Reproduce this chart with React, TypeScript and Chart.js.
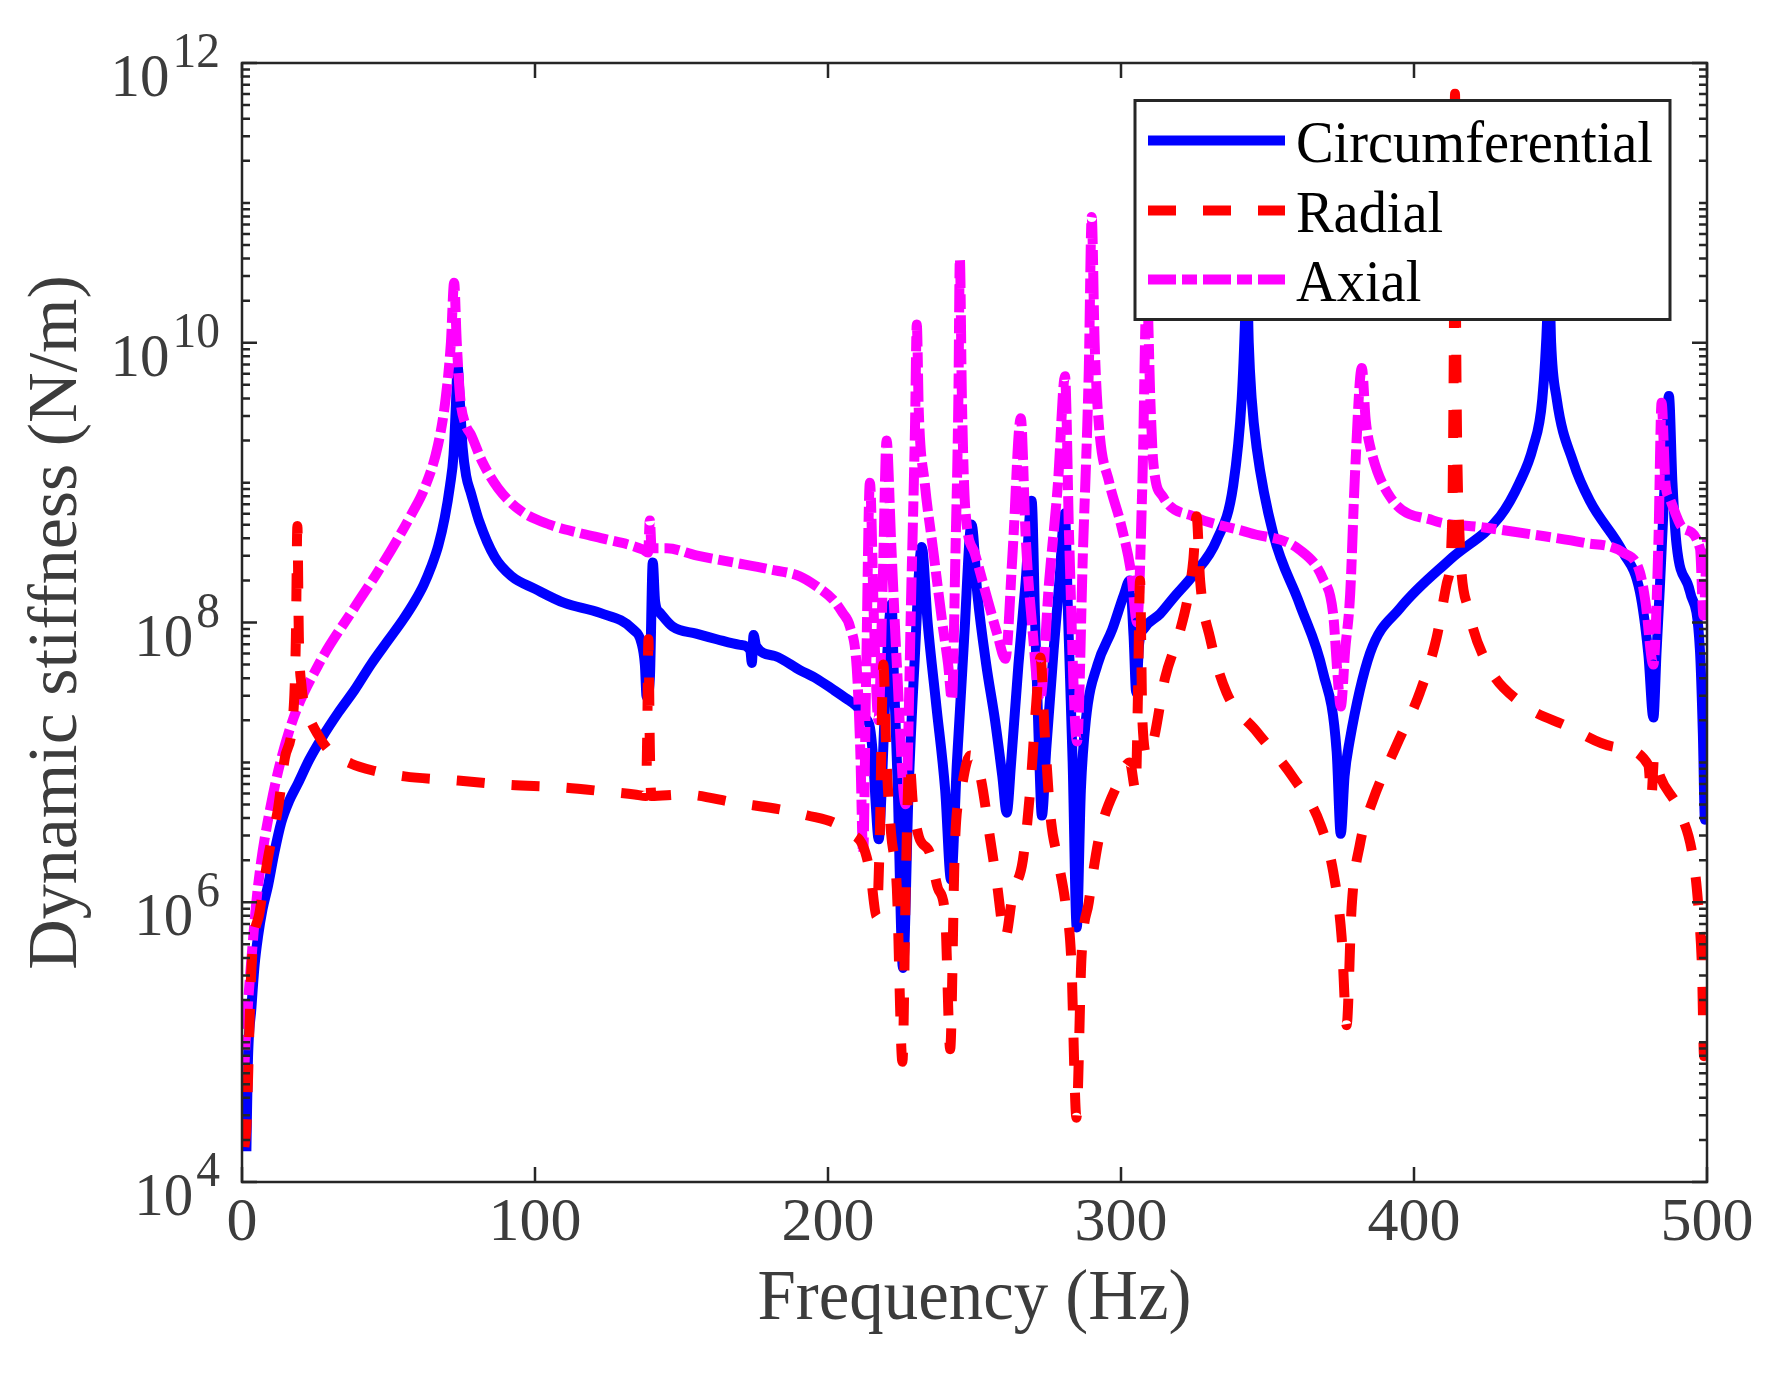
import React, { useEffect, useRef } from "react";
import { Chart, registerables } from "chart.js";

Chart.register(...registerables);

// ---- Data ----
const circFreq = [
  1.5, 2.0, 3.2, 4.3, 5.5, 7, 8.9, 11, 13.4, 16, 19.1, 23, 27.1, 33, 38.5, 44, 49.8, 55, 58.9, 62,
  64.6, 67, 69.2, 71, 72.2, 73, 73.6, 74.3, 75.3, 76.5, 78.2, 81, 86.2, 92, 100, 110, 122.2, 133.5,
  136.4, 137.5, 138.1, 139.2, 140.2, 141, 142.7, 147, 155, 162, 170, 173.5, 174, 174.6, 175.5, 182,
  190.4, 196, 201.8, 206, 209.8, 212.5, 214.3, 215.5, 216.3, 217.3, 218.5, 219.8, 221.7, 222.5,
  223.7, 225.6, 227.5, 229.5, 232, 234, 237, 240, 242, 244, 246.5, 249, 251, 254, 257, 259.5, 261,
  262.5, 265, 267.5, 269.5, 270.7, 272, 273, 274.5, 277, 279, 280.8, 282, 283.5, 284.9, 286.3, 288,
  292, 297, 301, 303, 304.3, 305.2, 306.2, 308, 313.3, 318, 324.7, 332.7, 338.3, 341.2, 342.4,
  342.9, 343.6, 344.6, 346.3, 352, 361, 369, 373.6, 375, 376.3, 378, 385, 395.2, 412.3, 429.4, 436,
  440.6, 443.8, 445.5, 446, 446.8, 448.7, 454.3, 460, 471.4, 477.1, 480, 481.7, 482.8, 484, 485.8,
  487, 488.2, 489.6, 494.2, 497.6, 498.6, 499.3, 500,
];
const circStiffness = [
  1.66e4, 7.08e4, 1.74e5, 3.55e5, 5.75e5, 8.91e5, 1.32e6, 2.24e6, 3.72e6, 5.25e6, 7.08e6, 1.05e7,
  1.48e7, 2.29e7, 3.31e7, 5.01e7, 7.41e7, 1.05e8, 1.41e8, 1.86e8, 2.51e8, 3.55e8, 5.62e8, 9.55e8,
  1.58e9, 3.55e9, 6.76e9, 3.98e9, 1.78e9, 1.12e9, 8.32e8, 5.25e8, 2.95e8, 2.14e8, 1.74e8, 1.38e8,
  1.17e8, 8.91e7, 7.08e7, 5.01e7, 2.95e7, 3.98e7, 2.69e8, 1.41e8, 1.17e8, 9.33e7, 8.32e7, 7.59e7,
  6.92e7, 6.31e7, 5.13e7, 8.13e7, 6.76e7, 5.75e7, 4.57e7, 3.98e7, 3.31e7, 2.88e7, 2.51e7, 2.09e7,
  1.78e7, 1.0e7, 5.01e6, 2.82e6, 7.94e6, 3.98e7, 1.35e8, 3.98e7, 7.94e6, 3.39e5, 6.31e6, 5.01e7,
  3.47e8, 1.0e8, 2.51e7, 6.31e6, 1.45e6, 1.0e7, 7.94e7, 5.01e8, 1.58e8, 5.01e7, 2.0e7, 7.94e6,
  4.37e6, 1.0e7, 5.01e7, 2.0e8, 7.41e8, 1.0e8, 1.26e7, 4.17e6, 1.26e7, 6.31e7, 2.0e8, 6.03e8, 1.0e8,
  1.0e7, 6.61e5, 6.31e6, 2.0e7, 5.01e7, 8.91e7, 1.58e8, 2.0e8, 7.94e7, 3.16e7, 7.08e7, 9.12e7,
  1.15e8, 1.51e8, 2.19e8, 3.89e8, 9.55e8, 3.98e9, 1.58e10, 3.98e10, 1.0e10, 3.98e9, 1.78e9, 4.27e8,
  1.35e8, 4.37e7, 1.2e7, 3.09e6, 7.94e6, 1.41e7, 6.03e7, 1.26e8, 2.82e8, 5.75e8, 1.0e9, 1.78e9,
  3.98e9, 1.58e10, 3.98e10, 1.0e10, 3.98e9, 1.41e9, 7.41e8, 3.16e8, 1.66e8, 5.89e7, 2.09e7, 6.31e7,
  1.95e8, 1.26e9, 4.17e9, 1.0e9, 3.63e8, 1.66e8, 6.31e7, 1.58e7, 3.89e6, 3.98e7,
];

const radialFreq = [
  0.8, 1.5, 3.2, 6.1, 8.9, 12.3, 14.6, 17.7, 18.4, 18.9, 19.4, 20.3, 22, 25.9, 30, 37.3, 45, 55.5,
  73.7, 90, 110, 124.6, 134, 137.8, 138.3, 138.7, 139.2, 139.7, 150.5, 168.8, 184.7, 193, 201.8, 207,
  212, 214.5, 216.6, 217.6, 218.9, 220, 221.5, 223.5, 225.4, 226.6, 227.8, 229, 231, 234.8, 237.5,
  240, 241.7, 243.3, 245.5, 248.5, 252, 255, 257.6, 260.5, 263, 266.5, 269, 271, 272.5, 274, 276,
  278.5, 281, 283, 284.8, 286.5, 289, 292.8, 298.5, 303, 305, 305.8, 306.5, 307.3, 309, 311, 315,
  320, 323, 324.7, 325.8, 327, 330.4, 336, 346.3, 358.8, 368, 372.5, 375.3, 377, 378.7, 381.6, 386,
  394, 402, 407.7, 411.2, 413, 413.6, 414, 414.4, 415.2, 418.5, 424.8, 436.2, 452.1, 468.6, 480, 481,
  482, 484, 490.4, 495.5, 497.3, 498.3, 499, 499.6, 500,
];
const radialStiffness = [
  1.78e4, 2.45e4, 3.31e5, 8.71e5, 2.09e6, 4.68e6, 1.07e7, 2.57e7, 7.94e7, 4.9e8, 7.94e7, 3.55e7,
  2.4e7, 1.58e7, 1.2e7, 9.77e6, 8.71e6, 7.94e6, 7.41e6, 6.92e6, 6.61e6, 6.17e6, 5.89e6, 5.75e6,
  1.58e7, 7.59e7, 1.26e7, 5.75e6, 5.89e6, 5.13e6, 4.57e6, 4.17e6, 3.72e6, 3.16e6, 2.51e6, 1.58e6,
  7.94e5, 2.51e6, 5.01e7, 1.0e7, 3.16e6, 1.26e6, 7.24e4, 1.58e6, 1.0e7, 5.01e6, 2.95e6, 2.24e6,
  1.26e6, 7.94e5, 8.91e4, 2.51e6, 6.31e6, 1.12e7, 7.94e6, 3.16e6, 1.38e6, 5.62e5, 1.12e6, 2.0e6,
  6.31e6, 2.51e7, 5.62e7, 1.58e7, 3.98e6, 2.0e6, 1.0e6, 3.98e5, 2.88e4, 3.98e5, 1.0e6, 3.09e6,
  6.76e6, 1.0e7, 6.31e6, 3.16e7, 2.0e8, 2.0e7, 1.12e7, 1.41e7, 3.98e7, 8.51e7, 1.58e8, 2.82e8,
  5.75e8, 2.0e8, 7.76e7, 3.16e7, 1.66e7, 7.76e6, 3.63e6, 1.62e6, 5.62e5, 1.32e5, 9.12e5, 2.63e6,
  5.37e6, 1.32e7, 3.16e7, 7.76e7, 1.91e8, 5.01e8, 1.0e10, 6.03e11, 1.0e10, 6.31e8, 1.26e8, 5.13e7,
  2.69e7, 1.82e7, 1.29e7, 9.55e6, 5.62e6, 1.12e7, 7.94e6, 4.57e6, 1.91e6, 7.94e5, 3.31e5, 7.94e4,
  2.51e5, 5.75e5,
];

const axialFreq = [
  0.5, 1.5, 3.2, 5.5, 10, 16.8, 25.9, 38.5, 46, 53.2, 58, 62.3, 66.9, 69.5, 71.3, 72.4, 73.3, 74.5,
  76.2, 78.2, 82, 87.4, 95, 105, 115, 123.3, 137, 138.6, 139.2, 139.8, 145, 155, 167.6, 180, 190.4,
  196, 201.8, 205, 207.5, 209.8, 211, 212, 213, 214.3, 215.7, 217.2, 218.7, 220, 221.5, 223.5,
  226.5, 228.5, 229.7, 230.3, 231, 233, 236, 239, 241, 242.3, 243.5, 244.5, 245, 245.7, 246.8, 250,
  254, 258, 260.5, 263, 265.8, 267.5, 270, 272.3, 275.5, 278.5, 280.9, 282.3, 285, 287, 289, 290,
  291, 292.5, 296, 300, 303.5, 305.5, 307.3, 308.8, 310, 311, 314.3, 324.6, 344, 361, 369, 372.4,
  374, 375, 376.5, 378.2, 379.9, 382.2, 383.5, 385, 391.8, 406.5, 423.6, 440, 457.7, 471.4, 477.1,
  479, 481.7, 483.4, 484.5, 485.8, 487.4, 492, 497.6, 498.8, 500,
];
const axialStiffness = [
  5.01e4, 1.26e5, 3.89e5, 1.32e6, 5.13e6, 1.86e7, 4.9e7, 1.29e8, 2.24e8, 3.98e8, 6.03e8, 9.12e8,
  1.86e9, 3.98e9, 1.0e10, 2.69e10, 1.0e10, 3.98e9, 2.63e9, 2.19e9, 1.41e9, 9.12e8, 6.31e8, 5.01e8,
  4.37e8, 3.98e8, 3.31e8, 3.16e8, 5.37e8, 3.39e8, 3.39e8, 3.02e8, 2.69e8, 2.4e8, 2.14e8, 1.82e8,
  1.45e8, 1.17e8, 9.33e7, 4.79e7, 1.26e7, 2.24e6, 3.98e7, 1.0e9, 1.0e8, 2.0e7, 2.0e8, 2.0e9, 3.98e8,
  5.01e7, 5.01e6, 2.0e8, 2.51e9, 1.35e10, 3.16e9, 1.0e9, 3.16e8, 1.0e8, 5.01e7, 2.82e7, 3.16e8,
  3.98e9, 3.98e10, 3.98e9, 6.76e8, 3.16e8, 1.58e8, 7.94e7, 5.5e7, 3.16e8, 2.88e9, 3.98e8, 7.94e7,
  2.75e7, 2.0e8, 1.0e9, 5.75e9, 3.98e8, 1.41e7, 3.16e8, 6.31e9, 7.94e10, 1.0e10, 2.51e9, 1.0e9,
  5.01e8, 2.24e8, 1.0e8, 1.0e9, 2.51e10, 3.98e9, 1.41e9, 7.94e8, 5.75e8, 4.37e8, 3.31e8, 2.04e8,
  1.15e8, 3.98e7, 2.51e7, 6.31e7, 1.58e8, 1.2e9, 6.61e9, 2.82e9, 1.82e9, 7.94e8, 5.37e8, 4.79e8,
  4.27e8, 3.72e8, 3.16e8, 2.29e8, 1.41e8, 5.01e7, 3.63e8, 3.72e9, 1.0e9, 7.59e8, 4.68e8, 3.39e8,
  1.12e8, 3.98e8,
];

const seriesLabels = ["Circumferential", "Radial", "Axial"];
const xTickValues = [0, 100, 200, 300, 400, 500];
const yLabelExponents = [4, 6, 8, 10, 12];
const yMinorExponents = [4, 5, 6, 7, 8, 9, 10, 11];
const xAxisTitle = "Frequency (Hz)";
const yAxisTitle = "Dynamic stiffness (N/m)";

// ---- styling ----
const SERIF = '"Liberation Serif", "Times New Roman", Times, serif';
const AXIS_COLOR = "#262626";
const LABEL_COLOR = "#3c3c3c";

function toPoints(freq: number[], vals: number[]) {
  return freq.map((f, i) => ({ x: f, y: vals[i] }));
}

function drawText(
  ctx: CanvasRenderingContext2D,
  text: string,
  x: number,
  y: number,
  size: number,
  color: string,
  align: CanvasTextAlign,
  sx: number
) {
  ctx.save();
  ctx.translate(x, y);
  ctx.scale(sx, 1);
  ctx.font = `${size}px ${SERIF}`;
  ctx.fillStyle = color;
  ctx.textAlign = align;
  ctx.textBaseline = "alphabetic";
  ctx.fillText(text, 0, 0);
  ctx.restore();
}

const framePlugin = {
  id: "matlabFrame",
  beforeDraw(chart: any) {
    const ctx = chart.ctx as CanvasRenderingContext2D;
    ctx.save();
    ctx.fillStyle = "#ffffff";
    ctx.fillRect(0, 0, chart.width, chart.height);
    ctx.restore();
  },
  afterDatasetsDraw(chart: any) {
    const ctx = chart.ctx as CanvasRenderingContext2D;
    const { left, right, top, bottom } = chart.chartArea;
    const xs = chart.scales.x;
    const ys = chart.scales.y;

    // ---- legend ----
    const lgRight = right - 37;
    const lgLeft = lgRight - 535;
    const lgTop = top + 37.5;
    const lgBottom = lgTop + 219;
    ctx.save();
    ctx.fillStyle = "#ffffff";
    ctx.fillRect(lgLeft, lgTop, lgRight - lgLeft, lgBottom - lgTop);
    ctx.lineWidth = 3;
    ctx.strokeStyle = AXIS_COLOR;
    ctx.strokeRect(lgLeft, lgTop, lgRight - lgLeft, lgBottom - lgTop);
    const rowY = [lgTop + 40, lgTop + 110, lgTop + 179];
    chart.data.datasets.forEach((ds: any, i: number) => {
      const y = rowY[i];
      ctx.save();
      ctx.strokeStyle = ds.borderColor;
      ctx.lineWidth = ds.borderWidth;
      ctx.lineCap = "butt";
      ctx.setLineDash(ds.borderDash || []);
      ctx.beginPath();
      ctx.moveTo(lgLeft + 13, y);
      ctx.lineTo(lgLeft + 150, y);
      ctx.stroke();
      ctx.restore();
      drawText(ctx, ds.label, lgLeft + 161, y + 21, 60, "#000000", "left", 0.94);
    });
    ctx.restore();

    // ---- axes box and ticks ----
    ctx.save();
    ctx.strokeStyle = AXIS_COLOR;
    ctx.lineWidth = 2.5;
    ctx.setLineDash([]);
    ctx.strokeRect(left, top, right - left, bottom - top);
    ctx.beginPath();
    xTickValues.forEach((v) => {
      const px = xs.getPixelForValue(v);
      ctx.moveTo(px, bottom);
      ctx.lineTo(px, bottom - 15);
      ctx.moveTo(px, top);
      ctx.lineTo(px, top + 15);
    });
    yMinorExponents.forEach((e) => {
      for (let k = 1; k <= 9; k++) {
        const val = k * Math.pow(10, e);
        const py = ys.getPixelForValue(val);
        const major = k === 1 && yLabelExponents.includes(e);
        const len = major ? 15 : 8;
        ctx.moveTo(left, py);
        ctx.lineTo(left + len, py);
        ctx.moveTo(right, py);
        ctx.lineTo(right - len, py);
      }
    });
    const pyTop = ys.getPixelForValue(Math.pow(10, 12));
    ctx.moveTo(left, pyTop);
    ctx.lineTo(left + 15, pyTop);
    ctx.moveTo(right, pyTop);
    ctx.lineTo(right - 15, pyTop);
    ctx.stroke();
    ctx.restore();

    // ---- tick labels ----
    xTickValues.forEach((v) => {
      const px = xs.getPixelForValue(v);
      drawText(ctx, String(v), px, bottom + 58, 62, LABEL_COLOR, "center", 1.0);
    });
    yLabelExponents.forEach((e) => {
      const py = ys.getPixelForValue(Math.pow(10, e));
      const expStr = String(e);
      ctx.save();
      ctx.font = `50px ${SERIF}`;
      const expW = ctx.measureText(expStr).width * 0.95;
      ctx.restore();
      const expRight = left - 22;
      drawText(ctx, expStr, expRight, py + 4, 50, LABEL_COLOR, "right", 0.95);
      drawText(ctx, "10", expRight - expW - 3, py + 33, 62, LABEL_COLOR, "right", 0.95);
    });

    // ---- axis titles ----
    drawText(ctx, xAxisTitle, (left + right) / 2, bottom + 137, 71, LABEL_COLOR, "center", 0.97);
    ctx.save();
    ctx.translate(76, (top + bottom) / 2);
    ctx.rotate(-Math.PI / 2);
    ctx.font = `70px ${SERIF}`;
    ctx.fillStyle = LABEL_COLOR;
    ctx.textAlign = "center";
    ctx.textBaseline = "alphabetic";
    ctx.fillText(yAxisTitle, 0, 0);
    ctx.restore();
  },
};

export default function App() {
  const canvasRef = useRef<HTMLCanvasElement | null>(null);

  useEffect(() => {
    const canvas = canvasRef.current;
    if (!canvas) return;
    const chart = new Chart(canvas, {
      type: "line",
      data: {
        datasets: [
          {
            label: seriesLabels[0],
            data: toPoints(circFreq, circStiffness),
            borderColor: "#0000ff",
            borderWidth: 10,
            borderDash: [],
            order: 3,
          },
          {
            label: seriesLabels[1],
            data: toPoints(radialFreq, radialStiffness),
            borderColor: "#ff0000",
            borderWidth: 10,
            borderDash: [28, 27],
            order: 1,
          },
          {
            label: seriesLabels[2],
            data: toPoints(axialFreq, axialStiffness),
            borderColor: "#ff00ff",
            borderWidth: 10,
            borderDash: [28, 6, 15, 6],
            order: 2,
          },
        ],
      },
      options: {
        animation: false,
        responsive: false,
        devicePixelRatio: 1,
        events: [],
        layout: { padding: { left: 242, right: 61, top: 63, bottom: 197 } },
        elements: {
          point: { radius: 0 },
          line: {
            tension: 0,
            cubicInterpolationMode: "monotone",
            borderJoinStyle: "round",
            borderCapStyle: "butt",
            fill: false,
          },
        },
        plugins: {
          legend: { display: false },
          tooltip: { enabled: false },
          title: { display: false },
        },
        scales: {
          x: { type: "linear", min: 0, max: 500, display: false },
          y: { type: "logarithmic", min: 1e4, max: 1e12, display: false },
        },
      },
      plugins: [framePlugin],
    } as any);
    return () => chart.destroy();
  }, []);

  return (
    <div
      style={{
        position: "absolute",
        left: 0,
        top: 0,
        width: 1768,
        height: 1379,
        background: "#ffffff",
      }}
    >
      <canvas
        ref={canvasRef}
        width={1768}
        height={1379}
        style={{ display: "block", width: 1768, height: 1379 }}
      />
    </div>
  );
}
